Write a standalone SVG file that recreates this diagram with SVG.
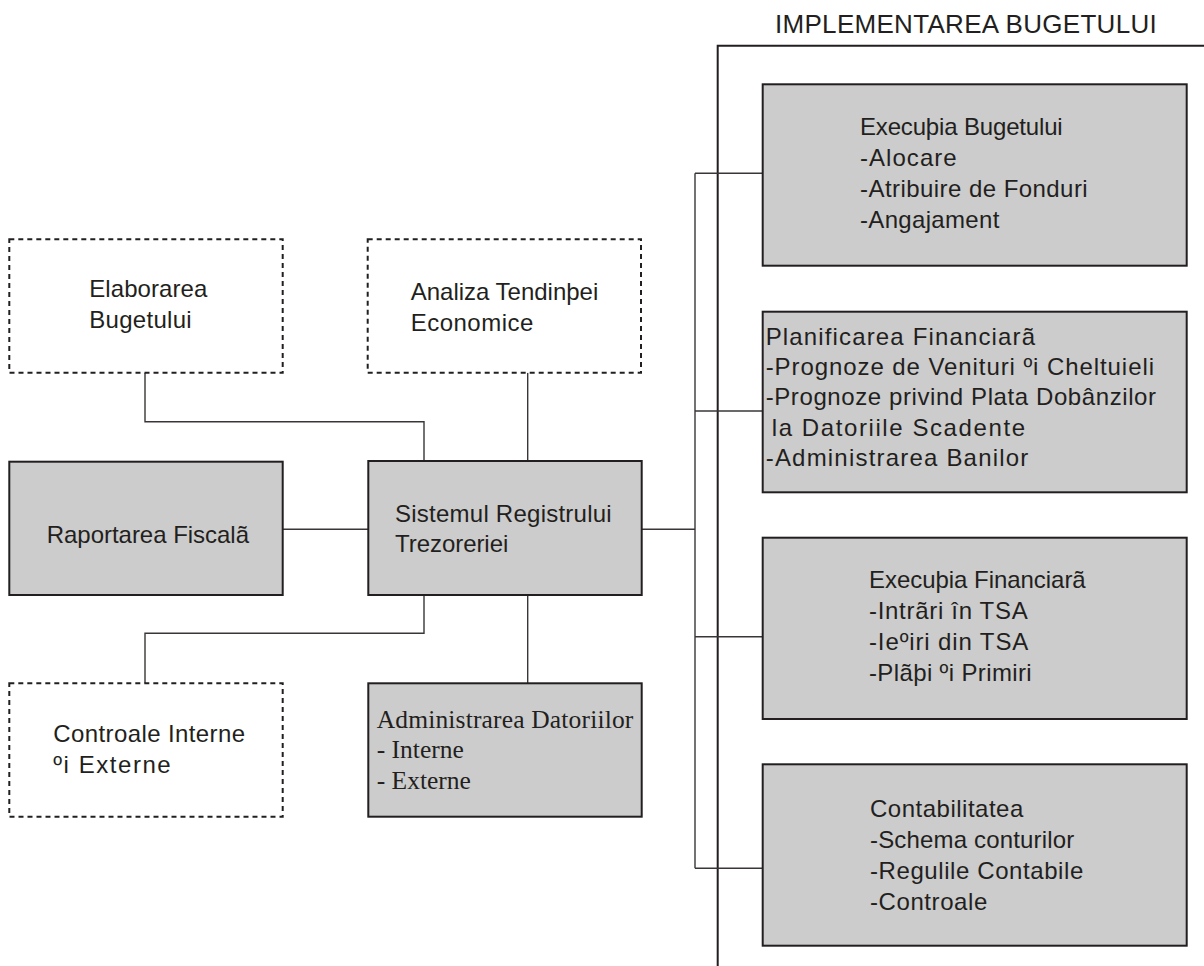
<svg xmlns="http://www.w3.org/2000/svg" width="1204" height="966" viewBox="0 0 1204 966">
<style>
  .solid { fill: #cccccc; stroke: #231f20; stroke-width: 2; }
  .dash { fill: #ffffff; stroke: #231f20; stroke-width: 2; stroke-dasharray: 5 4; }
  .conn { fill: none; stroke: #3a3637; stroke-width: 1.4; }
  .frame { fill: none; stroke: #231f20; stroke-width: 2; }
  .t { font-family: "Liberation Sans", Arial, sans-serif; font-size: 24px; fill: #231f20; }
  .h { font-family: "Liberation Sans", Arial, sans-serif; font-size: 26px; fill: #231f20; }
  .s { font-family: "Liberation Serif", "Times New Roman", serif; font-size: 25.5px; fill: #231f20; }
</style>
<rect width="1204" height="966" fill="#ffffff"/>

<g id="frame">
  <polyline class="frame" points="1204,45.7 717.7,45.7 717.7,966"/>
  <text class="h" x="775" y="32.7" textLength="381.7" lengthAdjust="spacing">IMPLEMENTAREA BUGETULUI</text>
</g>

<g id="connectors">
  <polyline class="conn" points="145,372.7 145,421.7 424,421.7 424,461"/>
  <line class="conn" x1="527.7" y1="372.7" x2="527.7" y2="461"/>
  <line class="conn" x1="282.7" y1="529.3" x2="368.3" y2="529.3"/>
  <polyline class="conn" points="424,595 424,633.3 145,633.3 145,683.3"/>
  <line class="conn" x1="527.7" y1="595" x2="527.7" y2="683.3"/>
  <line class="conn" x1="641.7" y1="529.3" x2="695" y2="529.3"/>
  <line class="conn" x1="695" y1="173.3" x2="695" y2="868.3"/>
  <line class="conn" x1="695" y1="173.3" x2="762.7" y2="173.3"/>
  <line class="conn" x1="695" y1="411" x2="762.7" y2="411"/>
  <line class="conn" x1="695" y1="636.7" x2="762.7" y2="636.7"/>
  <line class="conn" x1="695" y1="868.3" x2="762.7" y2="868.3"/>
</g>

<g id="elaborarea">
  <rect class="dash" x="9.3" y="239.3" width="273.4" height="133.4"/>
  <text class="t" x="89.3" y="297.3" textLength="118" lengthAdjust="spacing">Elaborarea</text>
  <text class="t" x="89.3" y="328.3" textLength="102.4" lengthAdjust="spacing">Bugetului</text>
</g>

<g id="analiza">
  <rect class="dash" x="367.7" y="239.3" width="273.3" height="133.4"/>
  <text class="t" x="410.7" y="300" textLength="187.6" lengthAdjust="spacing">Analiza Tendinþei</text>
  <text class="t" x="410.7" y="331" textLength="122.6" lengthAdjust="spacing">Economice</text>
</g>

<g id="raportarea">
  <rect class="solid" x="9.3" y="461.7" width="273.4" height="133.3"/>
  <text class="t" x="46.7" y="543.3" textLength="202.3" lengthAdjust="spacing">Raportarea Fiscalã</text>
</g>

<g id="sistemul">
  <rect class="solid" x="368.3" y="461" width="273.4" height="134"/>
  <text class="t" x="395" y="521.7" textLength="216.7" lengthAdjust="spacing">Sistemul Registrului</text>
  <text class="t" x="395" y="551.7" textLength="113.3" lengthAdjust="spacing">Trezoreriei</text>
</g>

<g id="controale">
  <rect class="dash" x="9.3" y="683.3" width="273.4" height="133.4"/>
  <text class="t" x="53.3" y="741.7" textLength="191.7" lengthAdjust="spacing">Controale Interne</text>
  <text class="t" x="53.3" y="772.7" textLength="117.4" lengthAdjust="spacing">ºi Externe</text>
</g>

<g id="administrarea">
  <rect class="solid" x="368.3" y="683.3" width="273.4" height="133.4"/>
  <text class="s" x="376.7" y="727.7" textLength="256.6" lengthAdjust="spacing">Administrarea Datoriilor</text>
  <text class="s" x="376.7" y="758.3">- Interne</text>
  <text class="s" x="376.7" y="789">- Externe</text>
</g>

<g id="executia-bugetului">
  <rect class="solid" x="762.7" y="84.3" width="424" height="181.4"/>
  <text class="t" x="860" y="135" textLength="202.7" lengthAdjust="spacing">Execuþia Bugetului</text>
  <text class="t" x="860" y="165.7" textLength="96.7" lengthAdjust="spacing">-Alocare</text>
  <text class="t" x="860" y="196.7" textLength="227.7" lengthAdjust="spacing">-Atribuire de Fonduri</text>
  <text class="t" x="860" y="227.7" textLength="139.3" lengthAdjust="spacing">-Angajament</text>
</g>

<g id="planificarea">
  <rect class="solid" x="762.7" y="311.7" width="424" height="180.6"/>
  <text class="t" x="765.7" y="345" textLength="269.3" lengthAdjust="spacing">Planificarea Financiarã</text>
  <text class="t" x="765.7" y="375" textLength="388.3" lengthAdjust="spacing">-Prognoze de Venituri ºi Cheltuieli</text>
  <text class="t" x="765.7" y="405" textLength="390.3" lengthAdjust="spacing">-Prognoze privind Plata Dobânzilor</text>
  <text class="t" x="771.7" y="435.7" textLength="253.3" lengthAdjust="spacing">la Datoriile Scadente</text>
  <text class="t" x="765.7" y="466" textLength="262.6" lengthAdjust="spacing">-Administrarea Banilor</text>
</g>

<g id="executia-financiara">
  <rect class="solid" x="762.7" y="537.7" width="424" height="181.3"/>
  <text class="t" x="869" y="588.3" textLength="216.7" lengthAdjust="spacing">Execuþia Financiarã</text>
  <text class="t" x="869" y="619.3" textLength="158.7" lengthAdjust="spacing">-Intrãri în TSA</text>
  <text class="t" x="869" y="650" textLength="159.3" lengthAdjust="spacing">-Ieºiri din TSA</text>
  <text class="t" x="869" y="681" textLength="162.7" lengthAdjust="spacing">-Plãþi ºi Primiri</text>
</g>

<g id="contabilitatea">
  <rect class="solid" x="762.7" y="764.3" width="424" height="181.4"/>
  <text class="t" x="870" y="817.3" textLength="153.3" lengthAdjust="spacing">Contabilitatea</text>
  <text class="t" x="870" y="848.3" textLength="204.3" lengthAdjust="spacing">-Schema conturilor</text>
  <text class="t" x="870" y="879.3" textLength="213.3" lengthAdjust="spacing">-Regulile Contabile</text>
  <text class="t" x="870" y="910" textLength="117.3" lengthAdjust="spacing">-Controale</text>
</g>
</svg>
